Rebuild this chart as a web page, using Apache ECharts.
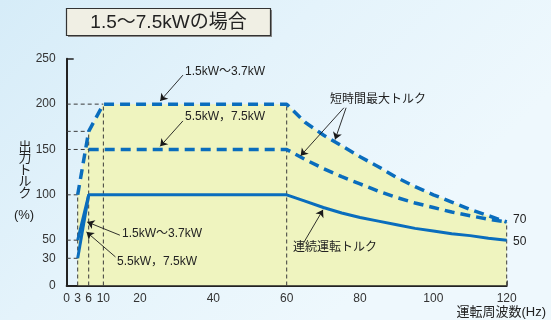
<!DOCTYPE html>
<html><head><meta charset="utf-8">
<script src="https://cdn.jsdelivr.net/npm/echarts@6/dist/echarts.min.js"></script>
<style>html,body{margin:0;padding:0;background:#fff;}#c{width:551px;height:320px;}</style>
</head><body><div id="c"></div>
<script>
// ---- data ----
const freqHigh = [60, 65, 70, 75, 80, 85, 90, 95, 100, 105, 110, 115, 120];
const shortMaxSmall = [200, 180, 166, 154, 142, 131, 119, 109, 100, 92, 84, 77, 70]; // 1.5kW~3.7kW
const shortMaxLarge = [150, 139, 129, 120, 112, 104, 97, 91, 86, 81, 77, 73, 70];    // 5.5kW,7.5kW
const continuousTorque = [100, 93, 86, 80, 75, 71, 67, 63, 60, 57, 55, 52, 50];
const freqLowSmall = [3, 6, 10];
const shortLowSmall = [100, 170, 200];
const freqLowLarge = [6];
const shortLowLarge = [150];
const freqContLow = [3, 6];
const contLowSmall = [50, 100];
const contLowLarge = [30, 100];
const yTickLabels = [0, 30, 50, 100, 150, 200, 250];
const xTickLabels = [0, 3, 6, 10, 20, 40, 60, 80, 100, 120];
const xTickMarks = [20, 40, 60, 80, 100, 120];
const hGuideLevels = [200, 170, 150, 100, 50, 30];
const hGuideEnds = [10, 6, 6, 3, 3, 3];
const vGuideFreqs = [3, 6, 10, 60, 120];
const vGuideTops = [100, 170, 200, 200, 70];

// ---- build ----
function zip(xs, ys) { return xs.map((x, i) => [x, ys[i]]); }
const topCurve = zip(freqLowSmall, shortLowSmall).concat(zip(freqHigh, shortMaxSmall));
const largeCurve = zip(freqLowLarge, shortLowLarge).concat(zip(freqHigh, shortMaxLarge));
const contCurve = zip(freqContLow, contLowSmall).concat(zip(freqHigh, continuousTorque));
const contLarge = zip(freqContLow, contLowLarge);

const BLUE = '#0a6dbd';
const GUIDE = '#3a3a3a';
const FONT = '"Liberation Sans", Arial, sans-serif';
const JFONT = '"Liberation Sans", "Noto Sans CJK JP", sans-serif';

const series = [];
series.push({
  type: 'line', data: topCurve, symbol: 'none', z: 1, silent: true,
  lineStyle: { width: 0, opacity: 0 },
  areaStyle: { color: '#eff4bf', opacity: 1 },
  markLine: {
    silent: true, symbol: ['none', 'arrow'], symbolSize: 7, animation: false,
    label: { show: false },
    lineStyle: { color: '#1a1a1a', width: 0.9, type: 'solid' },
    data: [
      [{ coord: [31.7, 232] }, { coord: [25.5, 203.5] }],
      [{ coord: [31.7, 181.5] }, { coord: [25.5, 153.5] }],
      [{ coord: [76.2, 196] }, { coord: [73.2, 161] }],
      [{ coord: [75.6, 196] }, { coord: [63.8, 143] }],
      [{ coord: [64.6, 47] }, { coord: [69.9, 83.5] }],
      [{ coord: [14.5, 55.5] }, { coord: [5.6, 70] }],
      [{ coord: [13.3, 31.5] }, { coord: [5.4, 59] }]
    ]
  }
});
hGuideLevels.forEach((lv, i) => {
  series.push({ type: 'line', data: [[0, lv], [hGuideEnds[i], lv]], symbol: 'none', z: 2, silent: true,
    lineStyle: { color: GUIDE, width: 1, type: [4, 3] } });
});
vGuideFreqs.forEach((f, i) => {
  series.push({ type: 'line', data: [[f, 0], [f, vGuideTops[i]]], symbol: 'none', z: 2, silent: true,
    lineStyle: { color: GUIDE, width: 1, type: [4, 3] } });
});
series.push({ type: 'line', data: topCurve, symbol: 'none', z: 3, lineStyle: { color: BLUE, width: 3.5, type: [10, 6] } });
series.push({ type: 'line', data: largeCurve, symbol: 'none', z: 3, lineStyle: { color: BLUE, width: 3.5, type: [10, 6] } });
series.push({ type: 'line', data: contCurve, symbol: 'none', z: 3, lineStyle: { color: BLUE, width: 3, type: 'solid' } });
series.push({ type: 'line', data: contLarge, symbol: 'none', z: 3, lineStyle: { color: BLUE, width: 3, type: 'solid' } });

function txt(x, y, s, size, align, font, lh) {
  return { type: 'text', x: x, y: y, z: 10, silent: true,
    style: { text: s, fill: '#222', font: size + 'px ' + (font || JFONT), align: align || 'left', verticalAlign: 'middle', lineHeight: lh } };
}

const chart = echarts.init(document.getElementById('c'), null, { renderer: 'canvas' });
chart.setOption({
  animation: false,
  backgroundColor: {
    type: 'linear', x: 0, y: 0, x2: 0.6, y2: 1,
    colorStops: [{ offset: 0, color: '#d6ecf8' }, { offset: 0.5, color: '#e4f3fb' }, { offset: 1, color: '#eef8fd' }]
  },
  grid: { left: 66.7, right: 44.3, top: 58.8, bottom: 34.5 },
  xAxis: {
    type: 'value', min: 0, max: 120,
    axisLine: { lineStyle: { color: '#222', width: 2 } },
    axisTick: { show: true, inside: true, length: 5, customValues: xTickMarks, lineStyle: { color: '#222', width: 1.5 } },
    axisLabel: { customValues: xTickLabels, color: '#333', fontSize: 12, fontFamily: FONT, margin: 7 },
    splitLine: { show: false }
  },
  yAxis: {
    type: 'value', min: 0, max: 250,
    axisLine: { show: true, lineStyle: { color: '#222', width: 2 } },
    axisTick: { show: true, inside: true, length: 7, customValues: [250], lineStyle: { color: '#222', width: 1.5 } },
    axisLabel: { customValues: yTickLabels, color: '#333', fontSize: 12, fontFamily: FONT, margin: 11 },
    splitLine: { show: false }
  },
  series: series,
  graphic: [
    { type: 'rect', shape: { x: 68, y: 10, width: 204, height: 27 }, style: { fill: '#888' }, z: 9, silent: true },
    { type: 'rect', shape: { x: 66.5, y: 8.5, width: 204, height: 27 }, style: { fill: '#f0efe4', stroke: '#333', lineWidth: 1.2 }, z: 10, silent: true },
    txt(168.5, 22.5, '1.5～7.5kWの場合', 19, 'center'),
    txt(25, 169, '出\n力\nト\nル\nク', 13, 'center', '"Noto Sans CJK JP", sans-serif', 11.5),
    txt(24, 215, '(%)', 13, 'center'),
    txt(185, 72, '1.5kW～3.7kW', 12),
    txt(185, 117, '5.5kW，7.5kW', 12),
    txt(330, 100, '短時間最大トルク', 12),
    txt(293, 248, '連続運転トルク', 12),
    txt(122, 234, '1.5kW～3.7kW', 12),
    txt(117, 262, '5.5kW，7.5kW', 12),
    txt(513, 220, '70', 12, 'left', FONT),
    txt(513, 241.5, '50', 12, 'left', FONT),
    txt(546, 312, '運転周波数(Hz)', 13, 'right')
  ]
});
</script>
</body></html>
